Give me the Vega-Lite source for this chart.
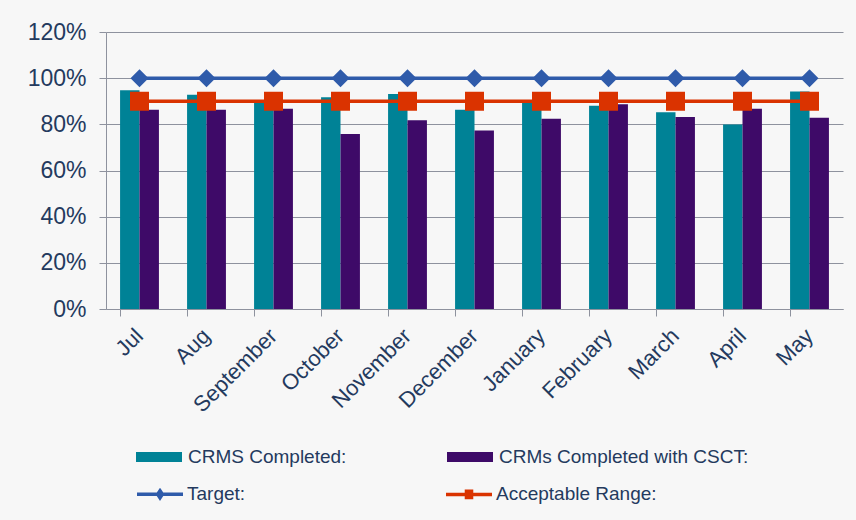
{
  "$schema": "https://vega.github.io/schema/vega-lite/v6.json",
  "width": 737,
  "height": 277,
  "autosize": {"type": "none"},
  "padding": {"left": 106, "top": 32, "right": 13, "bottom": 211},
  "background": "#F7F7F7",
  "config": {
    "view": {"stroke": null},
    "font": "Liberation Sans",
    "legend": {"padding": 0, "labelLimit": 400}
  },
  "datasets": {
    "bars": [
      {"month": "Jul", "series": "CRMS Completed:", "value": 0.948},
      {"month": "Jul", "series": "CRMs Completed with CSCT:", "value": 0.863},
      {"month": "Aug", "series": "CRMS Completed:", "value": 0.928},
      {"month": "Aug", "series": "CRMs Completed with CSCT:", "value": 0.863},
      {"month": "September", "series": "CRMS Completed:", "value": 0.905},
      {"month": "September", "series": "CRMs Completed with CSCT:", "value": 0.868},
      {"month": "October", "series": "CRMS Completed:", "value": 0.917},
      {"month": "October", "series": "CRMs Completed with CSCT:", "value": 0.758},
      {"month": "November", "series": "CRMS Completed:", "value": 0.931},
      {"month": "November", "series": "CRMs Completed with CSCT:", "value": 0.818},
      {"month": "December", "series": "CRMS Completed:", "value": 0.863},
      {"month": "December", "series": "CRMs Completed with CSCT:", "value": 0.773},
      {"month": "January", "series": "CRMS Completed:", "value": 0.893},
      {"month": "January", "series": "CRMs Completed with CSCT:", "value": 0.824},
      {"month": "February", "series": "CRMS Completed:", "value": 0.881},
      {"month": "February", "series": "CRMs Completed with CSCT:", "value": 0.887},
      {"month": "March", "series": "CRMS Completed:", "value": 0.852},
      {"month": "March", "series": "CRMs Completed with CSCT:", "value": 0.832},
      {"month": "April", "series": "CRMS Completed:", "value": 0.799},
      {"month": "April", "series": "CRMs Completed with CSCT:", "value": 0.868},
      {"month": "May", "series": "CRMS Completed:", "value": 0.942},
      {"month": "May", "series": "CRMs Completed with CSCT:", "value": 0.828}
    ],
    "lines": [
      {"month": "Jul", "series": "Target:", "value": 1.0},
      {"month": "Aug", "series": "Target:", "value": 1.0},
      {"month": "September", "series": "Target:", "value": 1.0},
      {"month": "October", "series": "Target:", "value": 1.0},
      {"month": "November", "series": "Target:", "value": 1.0},
      {"month": "December", "series": "Target:", "value": 1.0},
      {"month": "January", "series": "Target:", "value": 1.0},
      {"month": "February", "series": "Target:", "value": 1.0},
      {"month": "March", "series": "Target:", "value": 1.0},
      {"month": "April", "series": "Target:", "value": 1.0},
      {"month": "May", "series": "Target:", "value": 1.0},
      {"month": "Jul", "series": "Acceptable Range:", "value": 0.9},
      {"month": "Aug", "series": "Acceptable Range:", "value": 0.9},
      {"month": "September", "series": "Acceptable Range:", "value": 0.9},
      {"month": "October", "series": "Acceptable Range:", "value": 0.9},
      {"month": "November", "series": "Acceptable Range:", "value": 0.9},
      {"month": "December", "series": "Acceptable Range:", "value": 0.9},
      {"month": "January", "series": "Acceptable Range:", "value": 0.9},
      {"month": "February", "series": "Acceptable Range:", "value": 0.9},
      {"month": "March", "series": "Acceptable Range:", "value": 0.9},
      {"month": "April", "series": "Acceptable Range:", "value": 0.9},
      {"month": "May", "series": "Acceptable Range:", "value": 0.9}
    ]
  },
  "encoding": {
    "x": {
      "field": "month",
      "type": "nominal",
      "sort": ["Jul", "Aug", "September", "October", "November", "December", "January", "February", "March", "April", "May"],
      "scale": {"paddingInner": 0.42, "paddingOuter": 0.21},
      "axis": {
        "title": null,
        "labelAngle": -45,
        "labelAlign": "right",
        "labelBaseline": "middle",
        "labelFontSize": 22,
        "labelColor": "#243A5E",
        "labelOverlap": false,
        "labelBound": false,
        "labelFlush": false,
        "labelPadding": 16,
        "bandPosition": 0,
        "tickSize": 7,
        "tickColor": "#8E929E",
        "domainColor": "#8E929E",
        "grid": false
      }
    },
    "y": {
      "field": "value",
      "type": "quantitative",
      "scale": {"domain": [0, 1.2], "nice": false},
      "axis": {
        "title": null,
        "format": ".0%",
        "values": [0, 0.2, 0.4, 0.6, 0.8, 1.0, 1.2],
        "labelFontSize": 23,
        "labelColor": "#243A5E",
        "labelPadding": 13,
        "tickSize": 7,
        "tickColor": "#8E929E",
        "domainColor": "#8E929E",
        "grid": true,
        "gridColor": "#8E929E"
      }
    }
  },
  "layer": [
    {
      "data": {"name": "bars"},
      "mark": {"type": "bar", "strokeWidth": 0},
      "encoding": {
        "xOffset": {
          "field": "series",
          "type": "nominal",
          "sort": ["CRMS Completed:", "CRMs Completed with CSCT:"],
          "scale": {"paddingInner": 0, "paddingOuter": 0}
        },
        "fill": {
          "field": "series",
          "type": "nominal",
          "scale": {
            "domain": ["CRMS Completed:", "CRMs Completed with CSCT:"],
            "range": ["#008296", "#3E0A68"]
          },
          "legend": {
            "orient": "none",
            "legendX": 30,
            "legendY": 402,
            "direction": "horizontal",
            "columns": 2,
            "columnPadding": 100,
            "title": null,
            "symbolType": "M-1,-0.22H1V0.22H-1Z",
            "symbolSize": 2116,
            "symbolStrokeWidth": 0,
            "labelFontSize": 19,
            "labelColor": "#243A5E",
            "labelOffset": 6
          }
        }
      }
    },
    {
      "data": {"name": "lines"},
      "mark": {"type": "line", "strokeWidth": 3.5},
      "encoding": {
        "stroke": {
          "field": "series",
          "type": "nominal",
          "scale": {
            "domain": ["Target:", "Acceptable Range:"],
            "range": ["#2F5BAA", "#DA3300"]
          },
          "legend": {
            "orient": "none",
            "legendX": 29,
            "legendY": 437,
            "direction": "horizontal",
            "columns": 2,
            "columnPadding": 193,
            "title": null,
            "symbolType": "M-1,0H1",
            "symbolSize": 2116,
            "symbolStrokeWidth": 3.5,
            "labelFontSize": 19,
            "labelColor": "#243A5E",
            "labelOffset": 2,
            "encode": {
              "symbols": {
                "update": {
                  "shape": {"signal": "datum.value === 'Target:' ? 'M-1,0H1M0,-0.15L0.1,0L0,0.15L-0.1,0Z' : 'M-1,0H1M-0.11,-0.14H0.11V0.14H-0.11Z'"},
                  "fill": {"scale": "stroke", "field": "value"}
                }
              }
            }
          }
        }
      }
    },
    {
      "data": {"name": "lines"},
      "transform": [{"filter": "datum.series === 'Target:'"}],
      "mark": {"type": "point", "shape": "diamond", "filled": true, "opacity": 1, "strokeWidth": 0, "size": 324, "color": "#2F5BAA"},
      "encoding": {}
    },
    {
      "data": {"name": "lines"},
      "transform": [{"filter": "datum.series === 'Acceptable Range:'"}],
      "mark": {"type": "point", "shape": "square", "filled": true, "opacity": 1, "strokeWidth": 0, "size": 361, "color": "#DA3300"},
      "encoding": {}
    }
  ]
}
